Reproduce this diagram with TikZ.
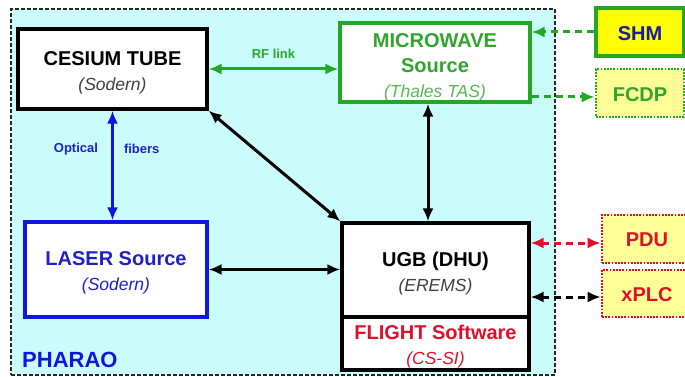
\documentclass[tikz,border=0pt]{standalone}
\usepackage{fontspec}
\setmainfont{Liberation Sans}
\usetikzlibrary{arrows.meta}
\definecolor{bgcyan}{HTML}{CAFCFC}
\definecolor{grn}{HTML}{22A822}
\definecolor{grntxt}{HTML}{2FA52F}
\definecolor{blu}{HTML}{1414E0}
\definecolor{blutxt}{HTML}{2020C8}
\definecolor{redc}{HTML}{E0102A}
\definecolor{navy}{HTML}{1A1AA8}
\definecolor{paleyel}{HTML}{FFFF96}
\definecolor{yel}{HTML}{FFFF00}
\tikzset{
  box/.style={draw, line width=3.2pt, fill=white, inner sep=0pt},
  txt/.style={align=center, inner sep=0pt, font=\fontsize{20}{25}\selectfont\bfseries},
  con/.style={line width=3pt, {Latex[length=13pt,width=11pt]}-{Latex[length=13pt,width=11pt]}},
  oneway/.style={line width=3pt, -{Latex[length=13pt,width=11pt]}},
  dsh/.style={dash pattern=on 7pt off 5pt},
  dotbox/.style={draw, line width=2.6pt, dash pattern=on 1.8pt off 1.4pt, fill=paleyel, inner sep=0pt},
  small/.style={inner sep=0pt, font=\fontsize{13}{15}\selectfont\bfseries},
}
\newcommand{\itl}[1]{{\fontsize{17.5}{25}\selectfont\mdseries\itshape #1}}
\begin{document}
\begin{tikzpicture}[x=1pt,y=-1pt]
\useasboundingbox (0,0) rectangle (685,377);
% outer PHARAO region
\node[draw=black!85, fill=bgcyan, line width=1.8pt, dash pattern=on 4pt off 2pt,
      minimum width=544pt, minimum height=366pt, inner sep=0pt] (ph) at (283,192) {};
\node[anchor=south west, text=blu, font=\fontsize{22}{24}\selectfont\bfseries, inner sep=0pt] (phl) at (22,368) {PHARAO};
% boxes
\node[box, draw=black, minimum width=189pt, minimum height=80pt] (ces) at (112.5,69) {};
\node[txt] (cest) at ([yshift=-3.5pt]ces.center) {CESIUM TUBE\\\textcolor{black!75}{\itl{(Sodern)}}};
\node[box, draw=grn, minimum width=190pt, minimum height=79pt] (mw) at (435,62.5) {};
\node[txt, text=grntxt] (mwt) at ([yshift=-4.5pt]mw.center) {MICROWAVE\\Source\\\textcolor{grntxt!80}{\itl{(Thales TAS)}}};
\node[box, draw=blu, minimum width=182pt, minimum height=95pt] (las) at (116,269.5) {};
\node[txt, text=blutxt] (last) at ([yshift=-3.5pt]las.center) {LASER Source\\\itl{(Sodern)}};
\node[box, draw=black, minimum width=187pt, minimum height=94pt] (ugb) at (435.5,270) {};
\node[txt] (ugbt) at ([yshift=-4pt]ugb.center) {UGB (DHU)\\\textcolor{black!75}{\itl{(EREMS)}}};
\node[box, draw=black, minimum width=187pt, minimum height=53pt] (fsw) at (435.5,343.5) {};
\node[txt, text=redc] (fswt) at ([yshift=-3pt]fsw.center) {FLIGHT Software\\\itl{(CS-SI)}};
% external boxes
\node[box, draw=grn, fill=yel, minimum width=88pt, minimum height=48pt] (shm) at (640,32) {};
\node[txt, text=navy] (shmt) at ([yshift=-1.5pt]shm.center) {SHM};
\node[dotbox, draw=grn, minimum width=88pt, minimum height=48pt] (fcdp) at (640,93) {};
\node[txt, text=grntxt] (fcdpt) at ([yshift=-1.5pt]fcdp.center) {FCDP};
\node[dotbox, draw=redc, minimum width=90pt, minimum height=48pt] (pdu) at (647,239) {};
\node[txt, text=redc] (pdut) at ([yshift=-1pt]pdu.center) {PDU};
\node[dotbox, draw=redc, minimum width=90pt, minimum height=47pt] (xplc) at (647,293.5) {};
\node[txt, text=redc] (xplct) at ([yshift=-1pt]xplc.center) {xPLC};
% connectors
\draw[con, grn] (ces.east) -- (ces.east -| mw.west)
  node[midway, above=9pt, small, text=grntxt] (rfl) {RF link};
\draw[con, blu] (ces.south) -- (ces.south |- las.north)
  node[pos=0.35, left=13pt, small, text=blutxt] (opt) {Optical}
  node[pos=0.35, right=10pt, small, text=blutxt] (fib) {fibers};
\draw[con, black] (ces.south east) -- (ugb.north west);
\draw[con, black] ([xshift=-7pt]mw.south) -- ([xshift=-7pt]mw.south |- ugb.north);
\draw[con, black] (las.east) -- (las.east -| ugb.west);
\draw[oneway, grn, dsh] (shm.west) -- (shm.west -| mw.east);
\draw[oneway, grn, dsh] ([yshift=-4pt]fcdp.west -| mw.east) -- ([yshift=-4pt]fcdp.west);
\draw[con, redc, dsh] ([yshift=-4pt]pdu.west -| ugb.east) -- ([yshift=-4pt]pdu.west);
\draw[con, black, dsh] ([yshift=-3.5pt]xplc.west -| ugb.east) -- ([yshift=-3.5pt]xplc.west);
\end{tikzpicture}
\end{document}
